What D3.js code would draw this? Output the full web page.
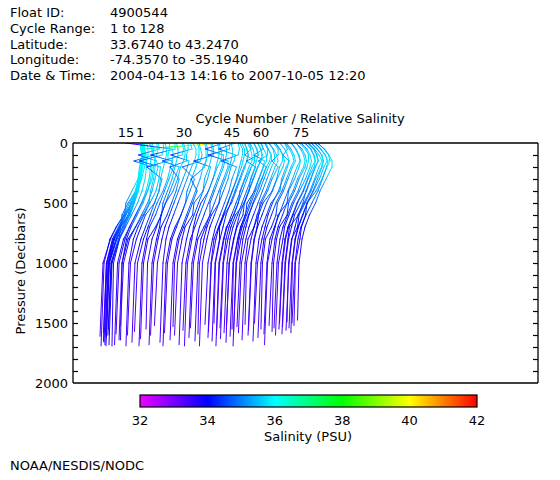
<!DOCTYPE html>
<html><head><meta charset="utf-8">
<script src="https://cdn.jsdelivr.net/npm/d3@7"></script>
<style>
body{margin:0;background:#fff;}
text{font-family:"DejaVu Sans",sans-serif;font-size:13px;fill:#000;}
</style></head>
<body><svg id="c" width="560" height="480"></svg>
<script>
// ---------- header info ----------
const infoLabels = ["Float ID:", "Cycle Range:", "Latitude:", "Longitude:", "Date & Time:"];
const infoValues = ["4900544", "1 to 128", "33.6740 to 43.2470", "-74.3570 to -35.1940", "2004-04-13 14:16 to 2007-10-05 12:20"];

// ---------- data ----------
const pressureLevels = [0, 50, 100, 150, 200, 300, 400, 500, 600, 700, 800, 1000];
const cycles = [1,2,3,4,5,6,7,8,9,10,11,12,13,14,15,16,17,18,19,20,21,22,23,24,25,26,27,28,29,30,
  31,32,33,34,35,36,37,38,39,40,41,42,43,44,45,46,47,48,49,50,51,52,53,54,55,56,57,58,59,60,
  61,62,63,64,65,66,67,68,69,70,71,72,73,74,75,76,77,78,79,80,81,82,83,84,85,86];
// horizontal offset of each profile (relative salinity units)
const offsets = [4.47,4.00,3.87,3.73,3.67,3.53,3.47,3.40,3.53,3.47,3.60,3.67,3.53,3.60,3.53,
  4.27,4.47,4.67,4.87,5.13,5.33,5.53,5.80,6.00,6.20,6.47,6.67,6.87,7.13,7.40,
  7.60,7.80,8.07,8.27,8.47,8.67,8.93,9.13,9.33,9.53,9.73,9.93,10.13,10.40,10.60,
  10.73,10.87,11.00,11.13,11.27,11.40,11.53,11.67,11.80,11.93,12.07,12.20,12.27,12.40,12.53,
  12.73,12.87,13.07,13.27,13.40,13.60,13.80,13.93,14.13,14.33,14.47,14.67,14.87,15.00,15.20,
  15.33,15.47,15.53,15.67,15.80,15.87,16.00,16.13,16.20,16.33,16.47];
const bottomPressure = [1640,1690,1600,1680,1570,1650,1690,1610,1580,1660,1690,1550,1620,1680,1600,
  1680,1590,1640,1520,1690,1600,1660,1570,1690,1630,1550,1680,1600,1520,1660,
  1690,1580,1640,1530,1600,1680,1560,1690,1620,1540,1650,1590,1690,1510,1620,
  1570,1650,1500,1690,1600,1540,1630,1580,1660,1520,1610,1550,1690,1600,1530,
  1580,1640,1510,1600,1560,1650,1500,1620,1550,1590,1680,1520,1570,1540,1600,
  1550,1500,1590,1530,1560,1490,1540,1580,1500,1520,1475];
// salinity at pressureLevels, last value at bottomPressure
const salinity = [
 [35.6,35.8,35.9,36.0,35.9,35.8,35.5,35.2,34.8,34.4,34.1,33.8,33.7],
 [35.9,36.0,36.0,35.9,35.9,35.8,35.6,35.3,34.9,34.5,34.1,33.7,33.6],
 [35.9,35.9,36.0,36.0,35.9,35.7,35.4,35.0,34.8,34.3,33.9,33.5,33.3],
 [36.0,36.0,36.1,36.0,35.9,35.8,35.6,35.2,34.8,34.4,34.0,33.6,33.4],
 [35.9,36.0,36.0,35.9,35.8,35.7,35.5,35.0,34.6,34.5,34.2,33.7,33.5],
 [36.0,36.1,36.1,36.0,36.0,35.9,35.7,35.4,35.0,34.6,34.2,33.7,33.5],
 [36.0,36.1,36.1,36.1,36.0,35.9,35.7,35.3,34.9,34.4,34.0,33.6,33.4],
 [36.1,36.1,36.2,36.1,36.1,36.0,35.8,35.5,35.0,34.5,34.1,33.6,33.4],
 [36.0,36.0,36.1,36.0,35.9,35.8,35.4,35.0,34.9,34.5,34.1,33.7,33.5],
 [36.1,36.2,36.2,36.1,36.0,35.9,35.7,35.4,35.0,34.6,34.2,33.8,33.6],
 [35.9,36.0,36.1,36.0,36.0,35.9,35.7,35.4,35.1,34.7,34.3,33.8,33.6],
 [36.0,36.1,36.1,36.0,35.9,35.8,35.7,35.4,35.1,34.5,34.4,33.9,33.7],
 [36.1,36.2,36.2,36.1,36.1,36.0,35.8,35.5,35.2,34.8,34.4,33.9,33.7],
 [35.9,36.0,36.0,35.9,35.9,35.8,35.7,35.5,35.2,34.8,34.5,34.0,33.8],
 [41.5,36.1,36.1,36.0,36.0,35.9,35.8,35.5,35.2,34.9,34.5,34.0,33.8],
 [35.9,36.0,36.0,35.9,35.9,35.8,35.6,35.3,34.9,34.5,34.1,33.7,33.5],
 [35.8,35.9,35.9,34.6,35.8,35.7,35.5,35.1,34.7,34.3,34.0,33.6,33.4],
 [35.9,36.0,35.9,35.8,35.8,35.7,35.5,35.4,35.0,34.5,34.0,33.6,33.4],
 [35.8,35.9,34.5,35.7,35.8,35.6,35.4,35.1,34.7,34.3,33.9,33.5,33.3],
 [35.9,35.9,35.8,34.3,35.7,35.6,35.4,35.0,34.6,34.2,33.9,33.6,33.4],
 [35.8,35.9,35.9,35.8,35.7,35.5,35.4,35.1,34.5,34.2,33.9,33.5,33.3],
 [35.9,35.9,35.8,35.8,34.4,35.4,35.2,34.9,34.6,34.3,34.0,33.6,33.4],
 [32.7,35.8,35.9,35.8,35.7,35.5,35.2,34.8,34.5,34.2,33.9,33.5,33.3],
 [35.8,35.8,34.2,35.6,35.7,35.4,35.1,34.8,34.5,34.1,33.9,33.6,33.4],
 [35.7,35.8,35.8,35.7,35.6,35.4,35.1,34.8,34.7,34.3,33.8,33.5,33.3],
 [35.8,35.9,35.8,34.5,35.6,35.3,35.0,34.7,34.4,34.1,33.8,33.5,33.4],
 [35.7,35.8,35.8,35.7,35.5,35.3,35.0,34.5,34.2,34.1,33.9,33.6,33.4],
 [35.8,35.8,35.7,35.7,34.6,35.2,35.0,34.7,34.4,34.0,33.8,33.5,33.3],
 [35.7,35.8,34.4,35.6,35.5,35.2,34.9,34.6,34.3,34.0,33.8,33.5,33.3],
 [35.6,35.8,35.8,35.7,35.5,35.2,34.9,34.6,34.3,34.0,33.8,33.6,33.4],
 [35.7,35.8,35.8,35.7,35.6,35.3,35.0,34.9,34.6,34.2,33.9,33.6,33.4],
 [35.6,35.7,35.8,35.7,34.5,35.3,35.0,34.7,34.4,34.1,33.8,33.5,33.3],
 [35.7,35.8,35.8,35.8,35.6,35.4,35.1,34.8,34.5,34.2,33.9,33.6,33.4],
 [35.6,35.7,35.7,35.6,35.5,34.6,35.0,34.7,34.4,34.1,33.8,33.5,33.4],
 [35.7,35.8,35.8,35.7,35.6,35.3,35.2,34.6,34.5,34.0,33.8,33.5,33.3],
 [35.6,35.7,35.7,34.4,35.5,35.3,35.0,34.7,34.4,34.1,33.9,33.6,33.4],
 [35.7,35.8,35.8,35.7,35.6,35.4,35.1,34.8,34.5,34.2,33.9,33.6,33.4],
 [35.6,35.7,35.8,35.7,35.5,35.2,34.9,34.4,34.1,33.9,33.8,33.5,33.3],
 [35.7,34.5,35.7,35.7,35.6,35.3,35.0,34.7,34.4,34.1,33.9,33.6,33.4],
 [35.6,35.7,35.7,35.6,35.5,35.2,34.9,34.6,34.6,34.2,33.8,33.5,33.3],
 [35.7,35.7,34.3,35.6,35.6,35.3,35.0,34.7,34.4,34.1,33.8,33.6,33.4],
 [35.6,35.7,35.7,35.6,35.5,35.2,34.9,34.8,34.3,34.0,33.8,33.5,33.4],
 [35.7,34.6,35.7,35.6,35.4,35.2,34.9,34.6,34.3,34.0,33.8,33.5,33.3],
 [35.6,35.7,35.6,34.5,35.5,35.2,35.0,34.7,34.4,34.1,33.9,33.6,33.4],
 [35.5,35.7,35.7,35.6,35.5,35.3,35.0,34.7,34.4,34.1,33.8,33.6,33.4],
 [35.5,35.7,35.7,35.6,35.5,35.2,34.9,34.6,34.3,34.0,33.8,33.5,33.3],
 [35.6,35.7,35.8,35.7,35.6,35.3,35.0,34.7,34.2,33.9,33.9,33.6,33.4],
 [35.4,35.6,35.7,35.6,35.4,35.1,34.8,34.5,34.2,34.0,33.8,33.5,33.4],
 [35.5,35.7,35.8,35.8,35.6,35.3,35.0,34.9,34.6,34.1,33.9,33.6,33.4],
 [35.5,35.6,35.2,35.9,35.6,35.2,34.9,34.6,34.3,34.0,33.8,33.5,33.3],
 [35.4,35.6,35.7,35.7,35.5,35.2,34.9,34.6,34.3,34.0,33.8,33.6,33.4],
 [35.5,35.7,35.8,35.7,35.6,35.3,35.2,34.9,34.3,34.0,33.8,33.5,33.3],
 [35.4,35.6,35.7,34.9,35.5,35.2,34.9,34.6,34.3,34.0,33.8,33.6,33.4],
 [35.5,35.7,35.8,35.7,35.5,35.2,34.9,34.6,34.3,34.1,33.9,33.6,33.4],
 [35.4,35.6,35.7,35.6,35.4,35.1,34.8,34.5,34.4,34.0,33.8,33.5,33.3],
 [35.5,35.6,35.0,35.7,35.6,35.3,35.0,34.7,34.4,34.1,33.9,33.6,33.4],
 [35.3,35.5,35.7,35.7,35.5,35.2,34.9,34.4,34.3,34.0,33.8,33.5,33.4],
 [35.5,35.7,35.7,35.1,35.6,35.3,34.9,34.6,34.3,34.0,33.8,33.6,33.4],
 [35.4,35.6,35.8,35.7,35.5,35.2,34.9,34.6,34.3,34.0,33.8,33.5,33.3],
 [35.3,35.5,35.7,35.7,35.5,35.2,34.9,34.5,34.2,34.0,33.8,33.6,33.4],
 [35.3,35.6,35.7,35.7,35.5,35.2,34.9,34.6,34.3,34.0,33.8,33.5,33.3],
 [35.2,35.5,35.7,35.8,35.6,35.3,35.0,34.6,34.5,34.2,33.8,33.6,33.4],
 [35.3,35.6,35.6,35.2,35.6,35.2,34.9,34.5,34.2,34.0,33.8,33.5,33.4],
 [35.2,35.5,35.7,35.7,35.5,35.3,35.0,34.4,34.1,34.0,33.8,33.6,33.4],
 [35.1,35.4,35.6,35.7,35.6,35.2,34.9,34.5,34.2,33.9,33.7,33.5,33.3],
 [35.2,35.5,35.7,35.8,35.6,35.3,35.2,34.6,34.3,34.0,33.8,33.6,33.4],
 [35.3,35.5,35.2,35.6,35.5,35.2,34.9,34.5,34.2,34.0,33.8,33.5,33.3],
 [35.2,35.5,35.7,35.8,35.6,35.3,35.0,34.6,34.3,34.0,33.8,33.6,33.4],
 [35.1,35.4,35.6,35.7,35.5,35.2,34.9,34.5,34.4,34.1,33.7,33.5,33.4],
 [35.2,35.5,35.7,35.8,35.6,35.3,35.0,34.7,34.4,34.1,33.8,33.6,33.4],
 [35.1,35.4,35.6,35.7,35.6,35.3,34.9,34.8,34.2,34.0,33.8,33.5,33.3],
 [35.2,35.5,35.7,35.8,35.7,35.3,35.0,34.6,34.3,34.0,33.8,33.6,33.4],
 [35.0,35.4,35.6,35.7,35.6,35.2,34.9,34.5,34.4,33.9,33.7,33.5,33.4],
 [35.1,35.5,35.7,35.7,35.6,35.3,35.0,34.6,34.3,34.0,33.8,33.6,33.4],
 [35.0,35.4,35.6,35.7,35.6,35.3,34.9,34.5,34.2,33.9,33.8,33.5,33.3],
 [35.1,35.5,35.7,35.8,35.6,35.3,35.0,34.6,34.3,34.0,33.8,33.6,33.4],
 [35.0,35.4,35.6,35.7,35.6,35.2,34.9,34.5,34.2,33.9,33.7,33.5,33.3],
 [35.1,35.5,35.7,35.8,35.6,35.3,35.0,34.8,34.5,33.9,33.8,33.6,33.4],
 [35.0,35.4,35.6,35.7,35.5,35.2,34.9,34.5,34.1,33.9,33.7,33.5,33.3],
 [34.9,35.3,35.6,35.8,35.6,35.3,35.0,34.6,34.2,34.0,33.8,33.6,33.4],
 [35.0,35.4,35.7,35.8,35.7,35.3,35.0,34.6,34.2,34.1,33.7,33.5,33.4],
 [34.9,35.3,35.6,35.7,35.6,35.3,35.0,34.6,34.3,34.0,33.8,33.6,33.4],
 [35.0,35.4,35.7,35.8,35.6,35.3,34.9,34.5,34.2,33.9,33.7,33.5,33.4],
 [34.9,35.3,35.6,35.8,35.7,35.4,35.0,34.4,34.3,34.0,33.8,33.6,33.4],
 [35.0,35.4,35.7,35.8,35.6,35.3,35.0,34.6,34.2,33.9,33.8,33.5,33.4],
 [34.8,35.3,35.6,35.8,35.8,35.4,35.0,34.7,34.3,34.0,33.8,33.6,33.5]
];
const labeledCycles = [1, 15, 30, 45, 60, 75];
const pressureTicks = [0, 500, 1000, 1500, 2000];
const colorStops = [32, 34, 36, 38, 40, 42];
const colorValues = ["#f000ff", "#0000ff", "#00ffff", "#00ff00", "#ffff00", "#ff0000"];
const salinityTicks = [32, 34, 36, 38, 40, 42];
const refSalinity = 35;

// ---------- drawing ----------
const svg = d3.select("#c");
svg.append("rect").attr("width", 560).attr("height", 480).attr("fill", "#fff");
const defs = svg.append("defs");

const plot = {l: 73, r: 538, t: 143, b: 383};
const x = d3.scaleLinear().domain([0, 31]).range([plot.l, plot.r]);
const y = d3.scaleLinear().domain([0, 2000]).range([plot.t, plot.b]);
const color = d3.scaleLinear().domain(colorStops).range(colorValues).clamp(true);

// header
const hdr = svg.append("g");
infoLabels.forEach((t, i) => {
  hdr.append("text").attr("x", 10).attr("y", 17 + i * 15.8).text(t);
  hdr.append("text").attr("x", 110).attr("y", 17 + i * 15.8).text(infoValues[i]);
});

// profiles: each segment stroked with a gradient between its end salinities
defs.append("clipPath").attr("id", "clip").append("rect")
  .attr("x", plot.l).attr("y", plot.t).attr("width", plot.r - plot.l).attr("height", plot.b - plot.t);
const gLines = svg.append("g").attr("clip-path", "url(#clip)")
  .attr("fill", "none").attr("stroke-width", 1).attr("stroke-linecap", "square");
let gid = 0;
cycles.forEach((c, i) => {
  const pts = pressureLevels.map((p, j) => ({p: p, s: salinity[i][j]}));
  pts.push({p: bottomPressure[i], s: salinity[i][pressureLevels.length]});
  for (let j = 0; j < pts.length - 1; j++) {
    const a = pts[j], b = pts[j + 1];
    const xa = x(offsets[i] + a.s - refSalinity), ya = y(a.p);
    const xb = x(offsets[i] + b.s - refSalinity), yb = y(b.p);
    const id = "g" + (gid++);
    const g = defs.append("linearGradient").attr("id", id).attr("gradientUnits", "userSpaceOnUse")
      .attr("x1", xa).attr("y1", ya).attr("x2", xb).attr("y2", yb);
    const s0 = Math.min(a.s, b.s), s1 = Math.max(a.s, b.s);
    const inner = colorStops.filter(v => v > s0 && v < s1);
    const stops = [a.s, ...(a.s < b.s ? inner : inner.slice().reverse()), b.s];
    stops.forEach(v => g.append("stop")
      .attr("offset", (a.s === b.s ? 0 : (v - a.s) / (b.s - a.s)))
      .attr("stop-color", color(v)));
    gLines.append("path")
      .attr("d", `M${xa},${ya}L${xb},${yb}`)
      .attr("stroke", `url(#${id})`);
  }
});

// frame
const frame = svg.append("g").attr("stroke", "#000").attr("stroke-width", 1.3).attr("fill", "none");
frame.append("line").attr("x1", plot.l).attr("x2", plot.r).attr("y1", plot.t).attr("y2", plot.t);
frame.append("line").attr("x1", plot.l).attr("x2", plot.r).attr("y1", plot.b).attr("y2", plot.b);
frame.append("line").attr("x1", plot.l).attr("x2", plot.l).attr("y1", plot.t).attr("y2", plot.b);
frame.append("line").attr("x1", plot.r).attr("x2", plot.r).attr("y1", plot.t).attr("y2", plot.b);

// y axes
const minor = d3.range(100, 2000, 100);
const axL = svg.append("g").attr("transform", `translate(${plot.l},0)`)
  .call(d3.axisRight(y).tickValues(minor).tickSize(5).tickFormat(""));
const axR = svg.append("g").attr("transform", `translate(${plot.r},0)`)
  .call(d3.axisLeft(y).tickValues(minor).tickSize(5).tickFormat(""));
[axL, axR].forEach(a => { a.select(".domain").remove(); a.selectAll("line").attr("stroke", "#000").attr("stroke-width", 1.2); });
const axLab = svg.append("g").attr("transform", `translate(${plot.l},0)`)
  .call(d3.axisLeft(y).tickValues(pressureTicks).tickSize(0).tickPadding(5).tickFormat(d3.format("d")));
axLab.select(".domain").remove();
axLab.selectAll("text").attr("font-family", "DejaVu Sans").attr("font-size", 13).attr("fill", "#000");

svg.append("text").attr("transform", "translate(25,271) rotate(-90)")
  .attr("text-anchor", "middle").text("Pressure (Decibars)");

// top cycle labels
labeledCycles.forEach(c => {
  const i = cycles.indexOf(c);
  svg.append("text").attr("x", x(offsets[i])).attr("y", 137).attr("text-anchor", "middle").text(c);
});
svg.append("text").attr("x", 300).attr("y", 123).attr("text-anchor", "middle")
  .text("Cycle Number / Relative Salinity");

// colorbar
const cb = d3.scaleLinear().domain([32, 42]).range([140, 477]);
const grad = defs.append("linearGradient").attr("id", "cbg")
  .attr("x1", "0%").attr("x2", "100%").attr("y1", "0%").attr("y2", "0%");
colorStops.forEach((s, i) => grad.append("stop")
  .attr("offset", ((s - 32) / 10 * 100) + "%").attr("stop-color", colorValues[i]));
svg.append("rect").attr("x", cb(32)).attr("y", 395).attr("width", cb(42) - cb(32)).attr("height", 12)
  .attr("fill", "url(#cbg)").attr("stroke", "#000").attr("stroke-width", 1.2);
salinityTicks.forEach(s => svg.append("text").attr("x", cb(s)).attr("y", 425)
  .attr("text-anchor", "middle").text(s));
svg.append("text").attr("x", 308).attr("y", 441).attr("text-anchor", "middle").text("Salinity (PSU)");

svg.append("text").attr("x", 10).attr("y", 470).text("NOAA/NESDIS/NODC");
</script></body></html>
